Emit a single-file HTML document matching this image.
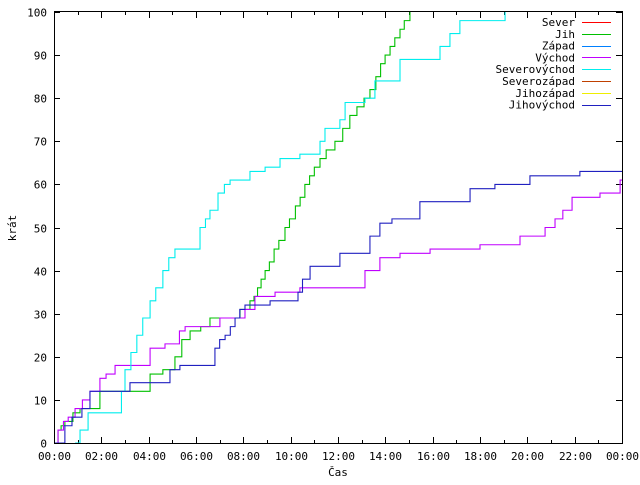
<!DOCTYPE html>
<html><head><meta charset="utf-8"><style>
body{margin:0;background:#fff}
svg text{font-family:"DejaVu Sans Mono","Liberation Mono",monospace;font-size:11px;fill:#000}
</style></head><body>
<svg id="c" width="640" height="480" xmlns="http://www.w3.org/2000/svg">
<rect x="0" y="0" width="640" height="480" fill="#fff"/>
<g id="grid"></g>
<g id="series"></g>
<rect x="54.5" y="11.5" width="568" height="432" fill="none" stroke="#000" stroke-width="1"/>
<text x="16" y="228" transform="rotate(-90 16 228)" text-anchor="middle">krát</text>
<text x="338" y="476" text-anchor="middle">Čas</text>
<g id="legend"></g>
</svg>
<script>
const xTickLabels=["00:00","02:00","04:00","06:00","08:00","10:00","12:00","14:00","16:00","18:00","20:00","22:00","00:00"];
const yTicks=[0,10,20,30,40,50,60,70,80,90,100];
const seriesNames=["Sever","Jih","Západ","Východ","Severovýchod","Severozápad","Jihozápad","Jihovýchod"];
const legendColors=["#ff0000","#00c000","#0080ff","#c000ff","#00eeee","#c04000","#eeee00","#2020c0"];
const jihT=[0,0.17,0.3,0.46,0.8,1.1,1.94,4.06,4.6,5.11,5.4,5.75,6.2,6.59,7.86,8.28,8.45,8.6,8.75,8.92,9.1,9.3,9.5,9.76,9.95,10.2,10.4,10.6,10.8,11.0,11.24,11.5,11.87,12.2,12.5,12.8,13.1,13.35,13.6,13.8,13.99,14.2,14.4,14.62,14.8,15.04];
const jihV=[0,3,4,5,7,8,12,16,17,20,24,26,27,29,31,33,34,36,38,40,42,45,47,50,52,55,57,60,62,64,66,68,70,73,76,78,80,82,85,88,90,92,94,96,98,100];
const vychodT=[0,0.17,0.4,0.6,0.89,1.2,1.52,1.94,2.2,2.58,4.06,4.69,5.3,5.54,7.01,8.07,8.49,9.34,10.39,12.72,13.14,13.77,14.62,15.89,18.0,19.69,20.75,21.17,21.5,21.89,23.07,23.92];
const vychodV=[0,3,5,6,8,10,12,15,16,18,22,23,26,27,29,31,34,35,36,36,40,43,44,45,46,48,50,52,54,57,58,61];
const svT=[0.89,1.1,1.44,2.7,2.85,3.0,3.25,3.5,3.75,4.06,4.3,4.6,4.85,5.11,5.96,6.17,6.4,6.59,6.93,7.2,7.44,8.28,8.92,9.55,10.39,11.24,11.45,12.08,12.3,13.14,13.56,14.62,15.89,16.31,16.73,17.15,19.06];
const svV=[0,3,7,7,12,17,21,25,29,33,36,40,43,45,45,50,52,54,58,60,61,63,64,66,67,70,73,75,79,80,84,89,89,92,95,98,100];
const jvT=[0,0.25,0.46,0.76,1.18,1.52,3.21,4.9,5.32,6.8,7.0,7.23,7.45,7.65,7.85,8.07,9.13,10.31,10.5,10.82,12.08,13.35,13.77,14.28,15.46,17.58,18.63,20.11,22.22,24];
const jvV=[0,0,4,6,8,12,14,17,18,22,24,25,27,29,31,32,33,35,38,41,44,48,51,52,56,59,60,62,63,63];
const drawn=[[1,jihT,jihV],[3,vychodT,vychodV],[4,svT,svV],[7,jvT,jvV]];
const X0=54,X1=622,Y0=443,Y1=12;
const sx=h=>X0+h*(X1-X0)/24, sy=v=>Y0-v*(Y0-Y1)/100;
const NS="http://www.w3.org/2000/svg";
const mk=(t,a,p)=>{const e=document.createElementNS(NS,t);for(const k in a)e.setAttribute(k,a[k]);p.appendChild(e);return e;};
const g=document.getElementById('grid');
for(let h=0;h<=24;h++){const x=Math.round(sx(h))+0.5,L=h%2?3:6;
 const t1=mk('path',{d:`M${x},443V${443-L}M${x},12V${12+L}`,stroke:'#000'},g);
 
 
 if(h%2===0){const t=mk('text',{x:x,y:460,'text-anchor':'middle'},g);t.textContent=xTickLabels[h/2];
 
 }}
yTicks.forEach(v=>{const y=Math.round(sy(v))+0.5;
 const t1=mk('path',{d:`M54,${y}H60M622,${y}H616`,stroke:'#000'},g);
 
 
 const t=mk('text',{x:47,y:y+4,'text-anchor':'end'},g);t.textContent=v;
 
 });
const s=document.getElementById('series');
drawn.forEach(([i,T,V])=>{let d=`M${sx(T[0])},${sy(V[0])}`;
 for(let k=1;k<T.length;k++){d+=`H${sx(T[k])}V${sy(V[k])}`;}
 if(T[T.length-1]<24&&V[V.length-1]<100)d+=`H${sx(24)}`;
 const p=mk('path',{d:d,fill:'none',stroke:legendColors[i],'stroke-width':1.1},s);
 
 });
const lg=document.getElementById('legend');
seriesNames.forEach((n,i)=>{const y=22+i*11.8;
 const t=mk('text',{x:575,y:y+4,'text-anchor':'end'},lg);t.textContent=n;
 
 
 const l=mk('path',{d:`M582,${Math.round(y)+0.5}H611`,stroke:legendColors[i]},lg);
 
 });
</script>
</body></html>
